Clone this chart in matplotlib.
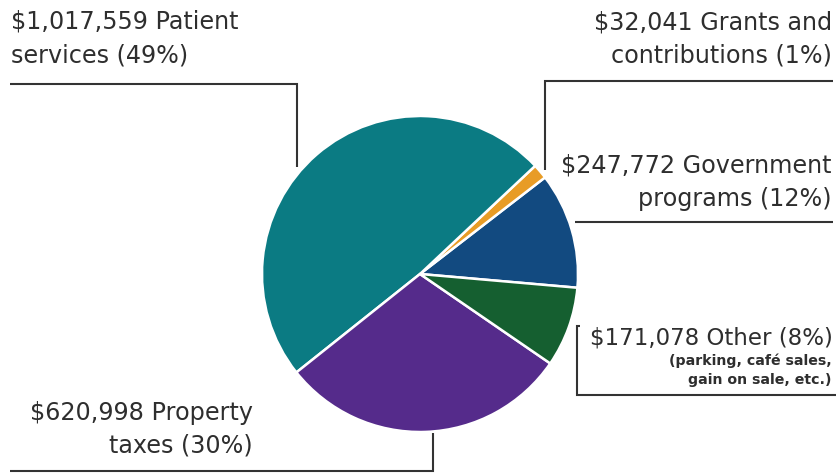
import matplotlib
matplotlib.use("Agg")
import matplotlib.pyplot as plt

# ---- data ----
categories = ["Government programs", "Grants and contributions", "Patient services",
              "Property taxes", "Other"]
values = [247772, 32041, 1017559, 620998, 171078]
percents = [12, 1, 49, 30, 8]
colors = ["#124a80", "#e89c26", "#0b7b83", "#552b8b", "#155f30"]

W, H = 837, 475
fig = plt.figure(figsize=(W / 100, H / 100), dpi=100)
ax = fig.add_axes([0, 0, 1, 1])
ax.set_xlim(0, W)
ax.set_ylim(0, H)
ax.set_aspect("equal")
ax.axis("off")

def Y(y):  # image y (top-down) -> plot y
    return H - y

cx, cy, r = 420, 274, 158
ax.pie(values, colors=colors, startangle=-5, counterclock=True,
       center=(cx, Y(cy)), radius=r, frame=True,
       wedgeprops=dict(edgecolor="white", linewidth=1.8))
ax.set_xlim(0, W)
ax.set_ylim(0, H)
ax.axis("off")

lc = "#333333"
lw = 1.5
def line(xs, ys):
    ax.plot(xs, [Y(v) for v in ys], color=lc, lw=lw, solid_capstyle="butt",
            solid_joinstyle="miter")

# leader lines
line([10, 297, 297], [84, 84, 167])            # patient services
line([833, 545, 545], [81, 81, 170])           # grants
line([575, 833], [222, 222])                   # government
line([580, 577, 577, 837], [326, 326, 395, 395])  # other
line([10, 433, 433], [471, 471, 433])          # property taxes

fam = ["DejaVu Sans"]
fs = 17.2
tc = "#2e2e2e"
def txt(x, y, s, ha, size=fs, weight="normal"):
    ax.text(x, Y(y), s, ha=ha, va="baseline", fontsize=size, color=tc,
            family=fam, fontweight=weight)

def money(v):
    return "${:,}".format(v)

# Patient services
txt(11, 28, f"{money(values[2])} Patient", "left")
txt(11, 62, f"services ({percents[2]}%)", "left")
# Grants
txt(832, 29, f"{money(values[1])} Grants and", "right")
txt(832, 62, f"contributions ({percents[1]}%)", "right")
# Government
txt(832, 173, f"{money(values[0])} Government", "right")
txt(832, 206, f"programs ({percents[0]}%)", "right")
# Other
txt(833, 344, f"{money(values[4])} Other ({percents[4]}%)", "right", size=16.5)
txt(832, 365, "(parking, café sales,", "right", size=10.2, weight="bold")
txt(832, 384, "gain on sale, etc.)", "right", size=10.2, weight="bold")
# Property
txt(253, 420, f"{money(values[3])} Property", "right")
txt(253, 453, f"taxes ({percents[3]}%)", "right")

fig.savefig("out.png", dpi=100, facecolor="white")
